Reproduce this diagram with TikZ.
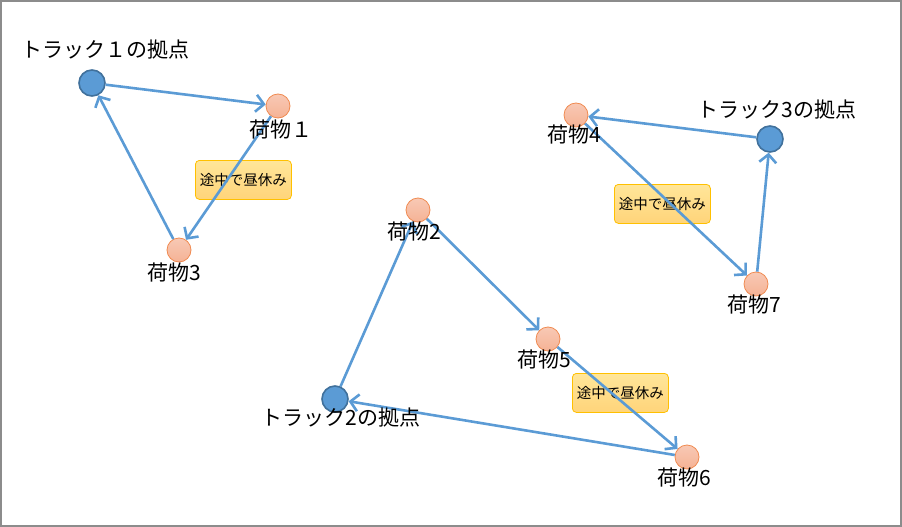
\documentclass[tikz,border=0pt]{standalone}
\usepackage{fontspec}
\newfontfamily\jp{Noto Sans CJK JP}
\usetikzlibrary{arrows.meta}
\definecolor{edgeblue}{HTML}{5B9BD5}
\definecolor{basefill}{HTML}{5B9BD5}
\definecolor{basedraw}{HTML}{41719C}
\definecolor{itemfill}{HTML}{F5B295}
\definecolor{itemdraw}{HTML}{F08A50}
\definecolor{noteA}{HTML}{FFE699}
\definecolor{noteB}{HTML}{FFD47A}
\definecolor{notedraw}{HTML}{FFC000}
\definecolor{framegray}{HTML}{8C8C8C}
\tikzset{
  basenode/.style={circle, minimum size=26pt, inner sep=0pt, fill=basefill, draw=basedraw, line width=1.6pt},
  itemnode/.style={circle, minimum size=24pt, inner sep=0pt, top color=itemfill!70!white, bottom color=itemfill, draw=itemdraw, line width=0.8pt},
  notebox/.style={rounded corners=4pt, top color=noteA, bottom color=noteB, draw=notedraw, line width=0.8pt, minimum width=96pt, minimum height=39pt, inner sep=0pt, font=\jp\fontsize{14.5}{16}\selectfont, anchor=north west, text depth=0pt},
  lbl/.style={font=\jp\fontsize{21}{24}\selectfont, inner sep=0pt, text=black},
  route/.style={draw=edgeblue, line width=2.6pt, -{Straight Barb[length=8pt,width=17pt]}}
}
\begin{document}
\begin{tikzpicture}[x=1pt,y=-1pt]
\useasboundingbox (0,0) rectangle (902,527);
\draw[framegray, line width=1.6pt] (0.8,0.8) rectangle (901.2,526.2);
% notes
\node[notebox] (n1) at (195,160) {途中で昼休み};
\node[notebox] (n2) at (614,184) {途中で昼休み};
\node[notebox] (n3) at (572,373) {途中で昼休み};
% nodes
\node[basenode] (t1) at (92,83) {};
\node[basenode] (t2) at (335,399) {};
\node[basenode] (t3) at (770,139) {};
\node[itemnode] (p1) at (278,106) {};
\node[itemnode] (p2) at (418,210) {};
\node[itemnode] (p3) at (179,250) {};
\node[itemnode] (p4) at (576,115) {};
\node[itemnode] (p5) at (548,339) {};
\node[itemnode] (p6) at (687,457) {};
\node[itemnode] (p7) at (756,284) {};
% routes
\draw[route] (t1) -- (p1);
\draw[route] (p1) -- (p3);
\draw[route] (p3) -- (t1);
\draw[route] (t2) -- (p2);
\draw[route] (p2) -- (p5);
\draw[route] (p5) -- (p6);
\draw[route] (p6) -- (t2);
\draw[route] (t3) -- (p4);
\draw[route] (p4) -- (p7);
\draw[route] (p7) -- (t3);
% labels
\node[lbl] (lt1) at (105,50) {トラック１の拠点};
\node[lbl] (lt2) at (341,418) {トラック2の拠点};
\node[lbl] (lt3) at (777,110) {トラック3の拠点};
\node[lbl] (l1) at (281,130) {荷物１};
\node[lbl] (l2) at (414,232) {荷物2};
\node[lbl] (l3) at (174,273) {荷物3};
\node[lbl] (l4) at (574,135) {荷物4};
\node[lbl] (l5) at (544,360) {荷物5};
\node[lbl] (l6) at (684,478) {荷物6};
\node[lbl] (l7) at (754,305) {荷物7};
\end{tikzpicture}
\end{document}
